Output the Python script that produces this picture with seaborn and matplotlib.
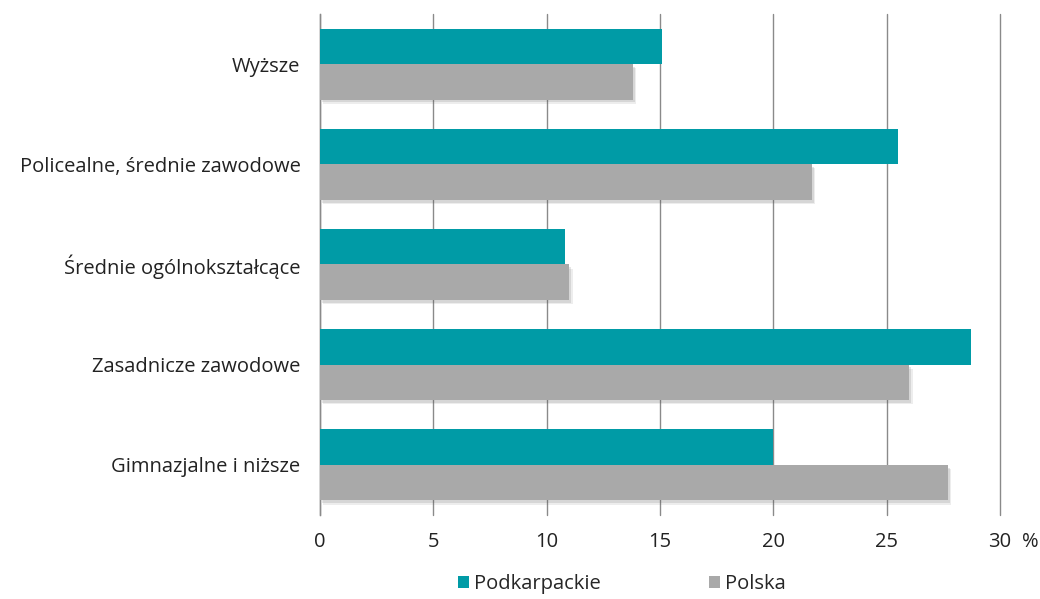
import matplotlib
matplotlib.use("Agg")
import matplotlib.pyplot as plt
import matplotlib.patheffects as pe
from matplotlib.patches import Patch
import seaborn as sns
import pandas as pd

categories = ["Wyższe", "Policealne, średnie zawodowe", "Średnie ogólnokształcące",
              "Zasadnicze zawodowe", "Gimnazjalne i niższe"]
podkarpackie = [15.1, 25.5, 10.8, 28.7, 20.0]
polska = [13.8, 21.7, 11.0, 26.0, 27.7]
series = ["Podkarpackie", "Polska"]
colors = ["#009ba6", "#a9a9a9"]
xticks = [0, 5, 10, 15, 20, 25, 30]

df = pd.DataFrame({
    "kategoria": categories * 2,
    "wartosc": podkarpackie + polska,
    "seria": [series[0]] * len(categories) + [series[1]] * len(categories),
})

sns.set_theme(style="white")
plt.rcParams["font.family"] = ["Open Sans", "DejaVu Sans"]
FS = 14.5

fig = plt.figure(figsize=(10.4, 5.99), dpi=100)
ax = fig.add_axes([320/1040, 1 - 515/599, 680/1040, 501/599])

sns.barplot(data=df, y="kategoria", x="wartosc", hue="seria", order=categories,
            hue_order=series, palette=colors, width=0.71, orient="h",
            saturation=1, ax=ax, legend=False, zorder=3)

# soft shadow on gray bars
for p in ax.patches:
    fc = p.get_facecolor()
    if abs(fc[0] - 0xa9/255) < 0.02:
        p.set_path_effects([
            pe.SimplePatchShadow(offset=(2.5, -3), alpha=0.10, shadow_rgbFace="#555555"),
            pe.SimplePatchShadow(offset=(1.5, -2), alpha=0.15, shadow_rgbFace="#555555"),
            pe.Normal()])
    p.set_edgecolor("none")

ax.set_xlim(0, 30)
ax.set_ylim(4.5, -0.5)
ax.set_xticks(xticks)
ax.set_xticklabels([str(t) for t in xticks], fontsize=FS, color="#222222")
ax.tick_params(axis="y", labelsize=FS, labelcolor="#222222", length=0, pad=14)
ax.tick_params(axis="x", length=0, pad=12)
ax.set_xlabel("")
ax.set_ylabel("")
ax.grid(axis="x", color="#8a8a8a", linewidth=1, zorder=0)
for gl in ax.get_xgridlines():
    gl.set_clip_on(False)
ax.set_axisbelow(True)
for s in ["top", "right", "bottom"]:
    ax.spines[s].set_visible(False)
ax.spines["left"].set_color("#8a8a8a")
ax.spines["left"].set_linewidth(1)

fig.text(1030/1040, 1 - 542/599, "%", fontsize=FS, ha="center", va="center", color="#222222")

handles = [Patch(facecolor=c, edgecolor="none") for c in colors]
fig.legend(handles, series, loc="center", bbox_to_anchor=(622/1040, 1 - 584/599),
           ncol=2, frameon=False, fontsize=FS, handlelength=0.55, handleheight=0.55,
           handletextpad=0.25, columnspacing=5.4, borderpad=0)

fig.savefig("out.png", dpi=100)
